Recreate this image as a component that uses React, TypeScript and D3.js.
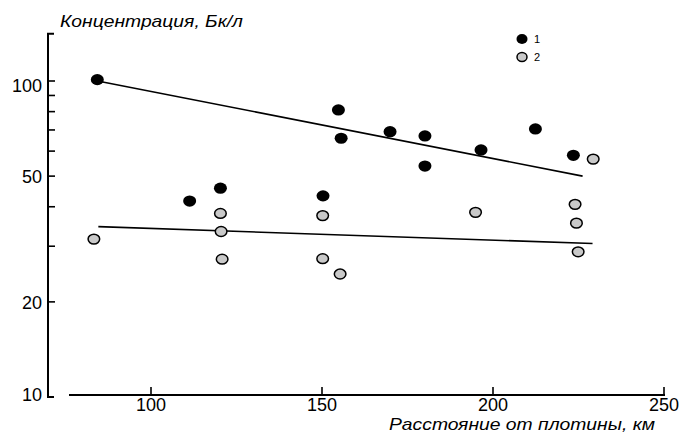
import React from "react";
import * as d3 from "d3";

// Series 1 (black dots): distance km, concentration Bq/l
const s1Distance = [84.3, 111.3, 120.3, 150.3, 154.8, 155.6, 169.9, 180.1, 180.1, 196.5, 212.4, 223.5];
const s1Value = [101, 41.7, 45.8, 43.3, 81, 65.9, 69.1, 67, 53.8, 60.5, 70.5, 58.2];
// Series 2 (grey dots)
const s2Distance = [83.3, 120.3, 120.5, 120.8, 150.2, 150.2, 155.3, 194.9, 229.3, 224.0, 224.4, 224.9];
const s2Value = [31.6, 38.1, 33.4, 27.3, 37.5, 27.4, 24.5, 38.4, 56.6, 40.7, 35.5, 28.8];
// Trend lines: [start, end]
const trend1Distance = [85.5, 226.2];
const trend1Value = [99.5, 50];
const trend2Distance = [84.6, 229.1];
const trend2Value = [34.6, 30.6];

const xTicks = [100, 150, 200, 250];
const yMinorTicks = [20, 30, 40, 50, 60, 70, 80, 90, 100];
const yLabelTicks = [10, 20, 50, 100];
const legendLabels = ["1", "2"];

const W = 685;
const H = 436;

export default function App() {
  // 3.42 px per km, x(100)=151
  const x = d3.scaleLinear().domain([100, 250]).range([151, 664]);
  const y = d3.scaleLog().domain([10, 100]).range([397, 81]);
  const yTop = y(141);
  const axisLeft = 48;
  const xAxisY = 395;

  const line = d3
    .line<[number, number]>()
    .x((d) => x(d[0]))
    .y((d) => y(d[1]));

  const t1: [number, number][] = trend1Distance.map((d, i) => [d, trend1Value[i]]);
  const t2: [number, number][] = trend2Distance.map((d, i) => [d, trend2Value[i]]);

  const font = "'Liberation Sans', Arial, sans-serif";

  return (
    <svg
      width={W}
      height={H}
      style={{ position: "absolute", left: 0, top: 0, background: "#fff" }}
    >
      <rect width={W} height={H} fill="#fff" />
      {/* Y axis */}
      <path
        d={`M${axisLeft + 6},${yTop} H${axisLeft} V${y(10)} H${axisLeft + 6}`}
        fill="none"
        stroke="#000"
        strokeWidth={2}
      />
      {yMinorTicks.map((t) => (
        <line
          key={"yt" + t}
          x1={axisLeft}
          x2={axisLeft + 7}
          y1={y(t)}
          y2={y(t)}
          stroke="#000"
          strokeWidth={1.6}
        />
      ))}
      {yLabelTicks.map((t) => (
        <text
          key={"yl" + t}
          x={42}
          y={y(t) + (t === 100 ? 6 : t === 10 ? -1 : 2)}
          textAnchor="end"
          dominantBaseline="middle"
          fontFamily={font}
          fontSize={18}
          fill="#000"
        >
          {t}
        </text>
      ))}
      {/* X axis */}
      <line x1={69} x2={x(250) + 1} y1={xAxisY} y2={xAxisY} stroke="#000" strokeWidth={2} />
      {xTicks.map((t) => (
        <g key={"xt" + t}>
          <line x1={x(t)} x2={x(t)} y1={xAxisY} y2={xAxisY - 8} stroke="#000" strokeWidth={1.6} />
          <text
            x={x(t)}
            y={406}
            textAnchor="middle"
            dominantBaseline="middle"
            fontFamily={font}
            fontSize={18}
            fill="#000"
          >
            {t}
          </text>
        </g>
      ))}
      {/* Titles */}
      <text
        x={60}
        y={27}
        fontFamily={font}
        fontStyle="italic"
        fontSize={16.5}
        textLength={183}
        lengthAdjust="spacingAndGlyphs"
        fill="#000"
      >
        Концентрация, Бк/л
      </text>
      <text
        x={389}
        y={429.5}
        fontFamily={font}
        fontStyle="italic"
        fontSize={17}
        textLength={266}
        lengthAdjust="spacingAndGlyphs"
        fill="#000"
      >
        Расстояние от плотины, км
      </text>
      {/* Trend lines */}
      <path d={line(t1) || ""} fill="none" stroke="#000" strokeWidth={1.6} />
      <path d={line(t2) || ""} fill="none" stroke="#000" strokeWidth={1.6} />
      {/* Points */}
      {s2Distance.map((d, i) => (
        <ellipse
          key={"p2" + i}
          cx={x(d)}
          cy={y(s2Value[i])}
          rx={5.8}
          ry={4.9}
          fill="#c9c9c9"
          stroke="#000"
          strokeWidth={1.5}
        />
      ))}
      {s1Distance.map((d, i) => (
        <ellipse key={"p1" + i} cx={x(d)} cy={y(s1Value[i])} rx={6.5} ry={5.6} fill="#000" />
      ))}
      {/* Legend */}
      <ellipse cx={522} cy={39} rx={5.5} ry={5} fill="#000" />
      <ellipse cx={522} cy={57} rx={5} ry={4.5} fill="#c9c9c9" stroke="#000" strokeWidth={1.5} />
      <text x={534} y={40} dominantBaseline="middle" fontFamily={font} fontSize={11} fill="#000">
        {legendLabels[0]}
      </text>
      <text x={534} y={58} dominantBaseline="middle" fontFamily={font} fontSize={11} fill="#000">
        {legendLabels[1]}
      </text>
    </svg>
  );
}
